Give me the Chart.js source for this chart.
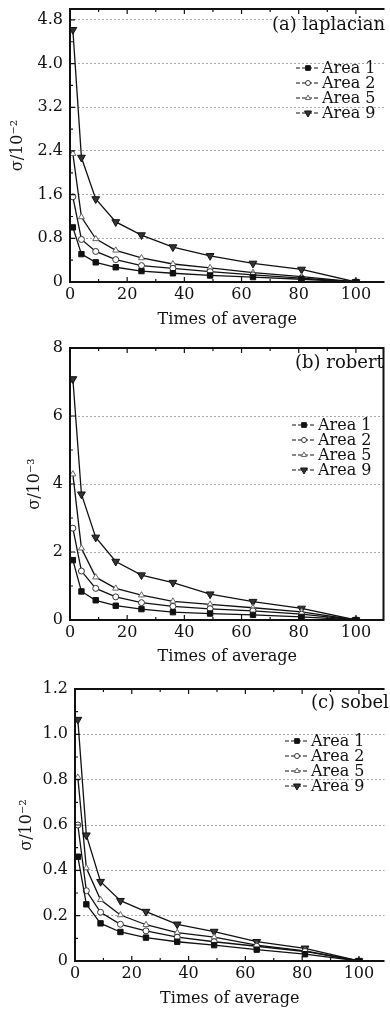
<!DOCTYPE html>
<html>
<head>
<meta charset="utf-8">
<script src="https://cdn.jsdelivr.net/npm/chart.js@4.4.0/dist/chart.umd.min.js"></script>
<style>
    body { margin: 0; background: #fff; }
    .panel { position: relative; width: 390px; }
</style>
</head>
<body>
<div class="panel" style="height:340px"><canvas id="chart-a"></canvas></div>
<div class="panel" style="height:340px"><canvas id="chart-b"></canvas></div>
<div class="panel" style="height:332px"><canvas id="chart-c"></canvas></div>
<script>
// x values: number of frames averaged
var times = [1, 4, 9, 16, 25, 36, 49, 64, 81, 100];
var areaNames = ["Area 1", "Area 2", "Area 5", "Area 9"];

var xTicks = [0, 20, 40, 60, 80, 100];
var xLabels = ["0", "20", "40", "60", "80", "100"];

// (a) laplacian, sigma / 10^-2
var lapArea1 = [1.00, 0.51, 0.36, 0.27, 0.20, 0.16, 0.12, 0.09, 0.05, 0];
var lapArea2 = [1.56, 0.78, 0.56, 0.41, 0.30, 0.25, 0.19, 0.13, 0.07, 0];
var lapArea5 = [2.35, 1.19, 0.79, 0.58, 0.44, 0.33, 0.26, 0.17, 0.10, 0];
var lapArea9 = [4.62, 2.28, 1.52, 1.10, 0.86, 0.64, 0.48, 0.34, 0.23, 0];
var lapTicks = [0, 0.8, 1.6, 2.4, 3.2, 4.0, 4.8];
var lapLabels = ["0", "0.8", "1.6", "2.4", "3.2", "4.0", "4.8"];

// (b) robert, sigma / 10^-3
var robArea1 = [1.76, 0.84, 0.58, 0.42, 0.32, 0.23, 0.19, 0.15, 0.09, 0];
var robArea2 = [2.70, 1.44, 0.93, 0.68, 0.51, 0.40, 0.33, 0.27, 0.17, 0];
var robArea5 = [4.29, 2.11, 1.26, 0.93, 0.73, 0.55, 0.46, 0.36, 0.24, 0];
var robArea9 = [7.09, 3.70, 2.43, 1.72, 1.32, 1.10, 0.76, 0.54, 0.34, 0];
var robTicks = [0, 2, 4, 6, 8];
var robLabels = ["0", "2", "4", "6", "8"];

// (c) sobel, sigma / 10^-2
var sobArea1 = [0.46, 0.25, 0.166, 0.128, 0.103, 0.085, 0.07, 0.05, 0.03, 0];
var sobArea2 = [0.60, 0.31, 0.215, 0.162, 0.133, 0.105, 0.085, 0.065, 0.042, 0];
var sobArea5 = [0.81, 0.41, 0.27, 0.203, 0.16, 0.125, 0.105, 0.07, 0.045, 0];
var sobArea9 = [1.065, 0.555, 0.35, 0.266, 0.218, 0.162, 0.13, 0.085, 0.056, 0];
var sobTicks = [0, 0.2, 0.4, 0.6, 0.8, 1.0, 1.2];
var sobLabels = ["0", "0.2", "0.4", "0.6", "0.8", "1.0", "1.2"];

var serif = '"DejaVu Serif", "Liberation Serif", serif';

// marker looks for Area 1, 2, 5, 9
var markerStyles = [
    { pointStyle: "rect", radius: 3.8, fill: "#111", stroke: "#111", rotation: 0 },
    { pointStyle: "circle", radius: 3, fill: "#fff", stroke: "#333", rotation: 0 },
    { pointStyle: "triangle", radius: 3.5, fill: "#fff", stroke: "#666", rotation: 0 },
    { pointStyle: "triangle", radius: 4.5, fill: "#333", stroke: "#111", rotation: 180 }
];

function midpoints(arr, max) {
    var out = [];
    var step = arr[1] - arr[0];
    for (var i = 0; i < arr.length; i++) {
        var m = arr[i] + step / 2;
        if (m < max) out.push(m);
    }
    return out;
}

// frame and inward tick marks
var frameLines = {
    id: "frameLines",
    afterDatasetsDraw: function (chart, args, opts) {
        var ctx = chart.ctx, a = chart.chartArea;
        var xs = chart.scales.x, ys = chart.scales.y;
        ctx.save();
        ctx.strokeStyle = "#111";
        ctx.lineWidth = 1.2;
        ctx.beginPath();
        opts.xTicks.forEach(function (v) {
            var px = xs.getPixelForValue(v);
            ctx.moveTo(px, a.bottom); ctx.lineTo(px, a.bottom - 5);
            ctx.moveTo(px, a.top); ctx.lineTo(px, a.top + 5);
        });
        midpoints(opts.xTicks, xs.max).forEach(function (v) {
            var px = xs.getPixelForValue(v);
            ctx.moveTo(px, a.bottom); ctx.lineTo(px, a.bottom - 3);
            ctx.moveTo(px, a.top); ctx.lineTo(px, a.top + 3);
        });
        opts.yTicks.forEach(function (v) {
            var py = ys.getPixelForValue(v);
            ctx.moveTo(a.left, py); ctx.lineTo(a.left + 5, py);
        });
        midpoints(opts.yTicks, ys.max).forEach(function (v) {
            var py = ys.getPixelForValue(v);
            ctx.moveTo(a.left, py); ctx.lineTo(a.left + 3, py);
        });
        ctx.stroke();

        ctx.lineWidth = 2;
        ctx.beginPath();
        ctx.moveTo(a.right, a.top); ctx.lineTo(a.left, a.top);
        ctx.lineTo(a.left, a.bottom); ctx.lineTo(a.right, a.bottom);
        if (opts.rightBorder) {
            ctx.moveTo(a.right - 1, a.top); ctx.lineTo(a.right - 1, a.bottom);
        }
        ctx.stroke();
        ctx.restore();
    }
};

// legend and panel tag drawn inside the plot
var innerLegend = {
    id: "innerLegend",
    afterDraw: function (chart, args, opts) {
        var ctx = chart.ctx;
        ctx.save();
        ctx.fillStyle = "#111";
        ctx.font = "18px " + serif;
        ctx.textAlign = "left";
        ctx.textBaseline = "middle";
        ctx.fillText(opts.tag, opts.tagX, opts.tagY);

        ctx.font = "16px " + serif;
        chart.data.datasets.forEach(function (ds, i) {
            var y = opts.y + i * 15;
            var m = markerStyles[i];
            ctx.strokeStyle = "#111";
            ctx.lineWidth = 1;
            ctx.setLineDash([4, 2]);
            ctx.beginPath();
            ctx.moveTo(opts.x, y); ctx.lineTo(opts.x + 24, y);
            ctx.stroke();
            ctx.setLineDash([]);
            ctx.fillStyle = m.fill;
            ctx.strokeStyle = m.stroke;
            Chart.helpers.drawPoint(ctx, {
                pointStyle: m.pointStyle, radius: m.radius - 0.5,
                rotation: m.rotation, borderWidth: 1
            }, opts.x + 12, y);
            ctx.fillStyle = "#111";
            ctx.fillText(ds.label, opts.x + 26, y + 1);
        });
        ctx.restore();
    }
};

function makeDatasets(series) {
    return series.map(function (values, i) {
        var m = markerStyles[i];
        return {
            label: areaNames[i],
            data: values.map(function (v, j) { return { x: times[j], y: v }; }),
            borderColor: "#111",
            borderWidth: 1.3,
            tension: 0,
            pointStyle: m.pointStyle,
            pointRadius: m.radius,
            pointRotation: m.rotation,
            pointBackgroundColor: m.fill,
            pointBorderColor: m.stroke,
            pointBorderWidth: 1,
            fill: false
        };
    });
}

function drawPanel(p) {
    var ctx = document.getElementById(p.id).getContext("2d");
    new Chart(ctx, {
        type: "line",
        data: { datasets: makeDatasets(p.series) },
        plugins: [frameLines, innerLegend],
        options: {
            responsive: true,
            maintainAspectRatio: false,
            animation: false,
            devicePixelRatio: 1,
            events: [],
            layout: { padding: { top: p.top, left: 0, right: 0, bottom: 0 } },
            scales: {
                x: {
                    type: "linear",
                    min: 0,
                    max: p.xMax,
                    afterBuildTicks: function (s) {
                        s.ticks = xTicks.map(function (v) { return { value: v }; });
                    },
                    afterFit: function (s) {
                        s.height = p.height - p.bottom;
                        s.paddingLeft = 0;
                        s.paddingRight = 0;
                    },
                    grid: { display: false, drawTicks: false },
                    border: { display: false },
                    ticks: {
                        padding: 3,
                        autoSkip: false,
                        maxRotation: 0,
                        color: "#111",
                        font: { family: serif, size: 16 },
                        callback: function (v, i) { return xLabels[i]; }
                    },
                    title: {
                        display: true,
                        text: "Times of average",
                        color: "#111",
                        font: { family: serif, size: 16 },
                        padding: { top: 0, bottom: p.xTitlePad }
                    }
                },
                y: {
                    min: 0,
                    max: p.yMax,
                    afterBuildTicks: function (s) {
                        s.ticks = p.yTicks.map(function (v) { return { value: v }; });
                    },
                    afterFit: function (s) {
                        s.width = p.left;
                        s.paddingTop = 0;
                        s.paddingBottom = 0;
                    },
                    grid: {
                        drawTicks: false,
                        lineWidth: 1,
                        color: function (c) {
                            return c.tick && c.tick.value > 0 ? "#a8a8a8" : "rgba(0,0,0,0)";
                        }
                    },
                    border: { display: false, dash: [2, 2] },
                    ticks: {
                        padding: 7,
                        autoSkip: false,
                        color: "#111",
                        font: { family: serif, size: 16 },
                        callback: function (v, i) { return p.yLabels[i]; }
                    },
                    title: {
                        display: true,
                        text: p.yTitle,
                        color: "#111",
                        font: { family: serif, size: 16 },
                        padding: { top: p.yTitlePad, bottom: 0 }
                    }
                }
            },
            plugins: {
                legend: { display: false },
                tooltip: { enabled: false },
                frameLines: { xTicks: xTicks, yTicks: p.yTicks, rightBorder: p.rightBorder },
                innerLegend: { tag: p.tag, tagX: p.tagX, tagY: p.tagY, x: p.legX, y: p.legY }
            }
        }
    });
}

document.addEventListener("DOMContentLoaded", function () {
    drawPanel({
        id: "chart-a", height: 340, top: 9, bottom: 282, left: 70, xMax: 110, yMax: 5,
        series: [lapArea1, lapArea2, lapArea5, lapArea9],
        yTicks: lapTicks, yLabels: lapLabels, yTitle: "σ/10⁻²", yTitlePad: 8, xTitlePad: 11,
        tag: "(a) laplacian", tagX: 272, tagY: 25, legX: 296, legY: 68, rightBorder: false
    });
    drawPanel({
        id: "chart-b", height: 340, top: 8, bottom: 280, left: 70, xMax: 110, yMax: 8,
        series: [robArea1, robArea2, robArea5, robArea9],
        yTicks: robTicks, yLabels: robLabels, yTitle: "σ/10⁻³", yTitlePad: 25, xTitlePad: 14,
        tag: "(b) robert", tagX: 295, tagY: 23, legX: 292, legY: 85, rightBorder: true
    });
    drawPanel({
        id: "chart-c", height: 332, top: 9, bottom: 281, left: 75, xMax: 109, yMax: 1.2,
        series: [sobArea1, sobArea2, sobArea5, sobArea9],
        yTicks: sobTicks, yLabels: sobLabels, yTitle: "σ/10⁻²", yTitlePad: 17, xTitlePad: 4,
        tag: "(c) sobel", tagX: 311, tagY: 23, legX: 285, legY: 61, rightBorder: false
    });
});
</script>
</body>
</html>
